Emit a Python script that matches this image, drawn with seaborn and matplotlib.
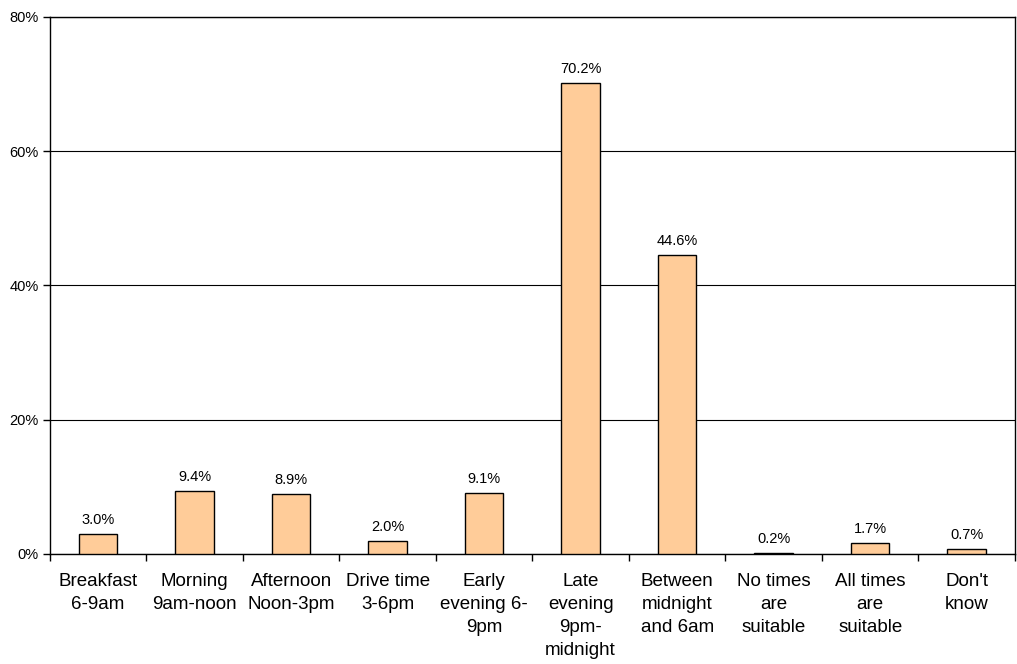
import matplotlib
matplotlib.use("Agg")
import matplotlib.pyplot as plt
import seaborn as sns
import numpy as np
import pandas as pd
from matplotlib.ticker import FixedLocator, PercentFormatter

categories = [
    "Breakfast\n6-9am",
    "Morning\n9am-noon",
    "Afternoon\nNoon-3pm",
    "Drive time\n3-6pm",
    "Early\nevening 6-\n9pm",
    "Late\nevening\n9pm-\nmidnight",
    "Between\nmidnight\nand 6am",
    "No times\nare\nsuitable",
    "All times\nare\nsuitable",
    "Don't\nknow",
]
values = [3.0, 9.4, 8.9, 2.0, 9.1, 70.2, 44.6, 0.2, 1.7, 0.7]
y_ticks = [0, 20, 40, 60, 80]

sns.set_style("white")
plt.rcParams["font.family"] = ["Liberation Sans", "DejaVu Sans"]
plt.rcParams["text.color"] = "black"
plt.rcParams["xtick.color"] = "black"
plt.rcParams["ytick.color"] = "black"

df = pd.DataFrame({"slot": categories, "pct": values})

fig = plt.figure(figsize=(10.17, 6.64), dpi=100)
ax = fig.add_axes([0.049, 0.1657, 0.949, 0.8087])

sns.barplot(data=df, x="slot", y="pct", color="#FFCC99", saturation=1,
            edgecolor="black", linewidth=1.0, width=0.4, ax=ax, zorder=3)

ax.set_xlim(-0.5, len(categories) - 0.5)
ax.set_ylim(0, 80)
ax.set_xlabel("")
ax.set_ylabel("")

# horizontal gridlines
ax.yaxis.set_major_locator(FixedLocator(y_ticks))
ax.yaxis.set_major_formatter(PercentFormatter(decimals=0))
ax.grid(axis="y", color="black", linewidth=0.8, zorder=0)
ax.set_axisbelow(True)

for s in ax.spines.values():
    s.set_color("black")
    s.set_linewidth(1.0)

# category labels centred, tick marks on boundaries
ax.set_xticks(range(len(categories)))
ax.set_xticklabels(categories, fontsize=13.5, linespacing=1.45, color="black")
ax.xaxis.set_minor_locator(FixedLocator(np.arange(-0.5, len(categories), 1.0)))
ax.tick_params(axis="x", which="major", length=0, pad=14)
ax.tick_params(axis="x", which="minor", length=5, width=1, color="black", direction="out", bottom=True)
ax.tick_params(axis="y", which="major", length=5, width=1, color="black", direction="out",
               left=True, labelsize=10.5, pad=3, labelcolor="black")

ax.bar_label(ax.containers[0], labels=[f"{v:.1f}%" for v in values], padding=5,
             fontsize=10.5, color="black")

fig.savefig("out.png", dpi=100)
